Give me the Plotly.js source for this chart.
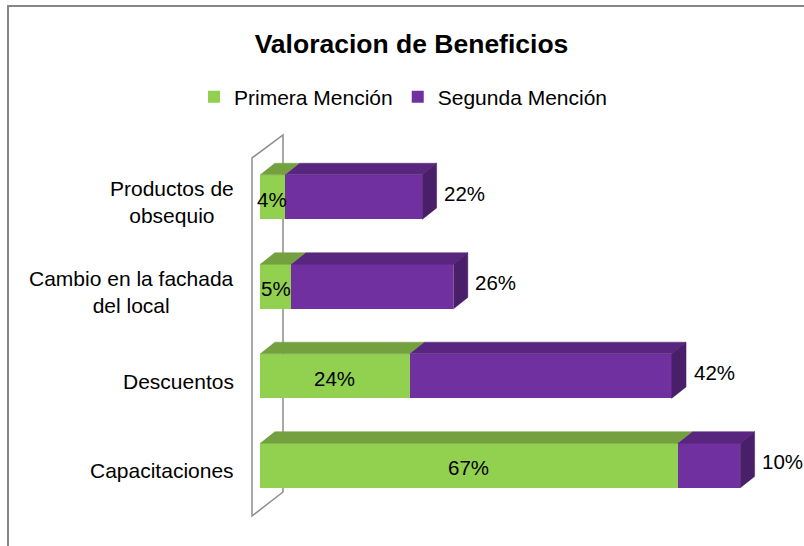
<!DOCTYPE html>
<html>
<head>
<meta charset="utf-8">
<script src="https://cdn.plot.ly/plotly-3.0.1.min.js"></script>
<style>html,body{margin:0;padding:0;background:#fff;}#chart{width:804px;height:546px;}</style>
</head>
<body>
<div id="chart"></div>
<script>
// ---- data (top to bottom as in the picture) ----
const categories = ['Productos de obsequio', 'Cambio en la fachada del local', 'Descuentos', 'Capacitaciones'];
const tickLabels = ['Productos de<br>obsequio', 'Cambio en la fachada<br>del local', 'Descuentos', 'Capacitaciones'];
const primera = [4, 5, 24, 67];
const segunda = [22, 26, 42, 10];
const seriesNames = ['Primera Mención', 'Segunda Mención'];
const chartTitle = 'Valoracion de Beneficios';

// ---- layout constants ----
const W = 804, H = 546;
const M = {l: 250, r: 14, t: 130, b: 25};
const PW = W - M.l - M.r, PH = H - M.t - M.b;
const XR = [-1.605, 85.0];
const YR = [-0.62, 3.75];
const pxX = PW / (XR[1] - XR[0]);
const pxY = PH / (YR[1] - YR[0]);
const DX = 14.5 / pxX, DY = 11.5 / pxY;   // 3D depth
const HALF = 0.25;                          // half bar thickness
const FONT = 'Liberation Sans, Arial, sans-serif';
const GREEN = '#92D050', GREEN_TOP = '#74A03F';
const PURPLE = '#7030A0', PURPLE_TOP = '#58267E', PURPLE_SIDE = '#4A1F6A';

const n = categories.length;
const yPos = categories.map((c, k) => n - 1 - k);
const totals = primera.map((v, k) => v + segunda[k]);

function polyTrace(builder, color) {
  const xs = [], ys = [];
  for (let k = 0; k < n; k++) {
    const pts = builder(k);
    pts.forEach(p => { xs.push(p[0]); ys.push(p[1]); });
    xs.push(null); ys.push(null);
  }
  return {type: 'scatter', mode: 'lines', x: xs, y: ys, fill: 'toself', fillcolor: color,
          line: {width: 0.5, color: color}, showlegend: false, hoverinfo: 'skip'};
}

const traces = [
  {type: 'bar', orientation: 'h', name: seriesNames[0], x: primera, y: yPos, width: 2 * HALF,
   marker: {color: GREEN, line: {width: 0}}, hoverinfo: 'x+name'},
  {type: 'bar', orientation: 'h', name: seriesNames[1], x: segunda, y: yPos, width: 2 * HALF,
   marker: {color: PURPLE, line: {width: 0}}, hoverinfo: 'x+name'},
  polyTrace(k => { const y = yPos[k] + HALF, a = 0, b = primera[k];
    return [[a, y], [b, y], [b + DX, y + DY], [a + DX, y + DY]]; }, GREEN_TOP),
  polyTrace(k => { const y = yPos[k] + HALF, a = primera[k], b = totals[k];
    return [[a, y], [b, y], [b + DX, y + DY], [a + DX, y + DY]]; }, PURPLE_TOP),
  polyTrace(k => { const yb = yPos[k] - HALF, yt = yPos[k] + HALF, b = totals[k];
    return [[b, yb], [b + DX, yb + DY], [b + DX, yt + DY], [b, yt]]; }, PURPLE_SIDE)
];

const annotations = [];
for (let k = 0; k < n; k++) {
  annotations.push({xref: 'paper', x: 0, yref: 'y', y: yPos[k], xanchor: 'right', yanchor: 'middle',
    xshift: -14, yshift: -5, align: 'center', showarrow: false, text: tickLabels[k],
    font: {family: FONT, size: 21, color: '#000'}});
  annotations.push({xref: 'x', x: primera[k] / 2, yref: 'y', y: yPos[k], xanchor: 'center', yanchor: 'middle',
    yshift: -2, showarrow: false, text: primera[k] + '%', font: {family: FONT, size: 20.5, color: '#000'}});
  annotations.push({xref: 'x', x: totals[k], yref: 'y', y: yPos[k], xanchor: 'left', yanchor: 'middle',
    xshift: 20, yshift: 4, showarrow: false, text: segunda[k] + '%', font: {family: FONT, size: 20.5, color: '#000'}});
}

// wall outline (behind bars)
const wFx = -8 / pxX, wBx = 23 / pxX;
const y0px = M.t + (YR[1] - 0) * pxY;
const toY = py => (y0px - py) / pxY;
const wall = 'M ' + wFx + ',' + toY(516) + ' L ' + wFx + ',' + toY(158) + ' L ' + wBx + ',' + toY(135) +
             ' L ' + wBx + ',' + toY(492) + ' Z';
const pxToPaperX = px => (px - M.l) / PW;
const pxToPaperY = py => (M.t + PH - py) / PH;

const layout = {
  width: W, height: H, margin: M,
  paper_bgcolor: '#fff', plot_bgcolor: 'rgba(0,0,0,0)',
  barmode: 'stack', bargap: 0.5,
  font: {family: FONT, size: 21, color: '#000'},
  title: {text: '<b>' + chartTitle + '</b>', font: {family: FONT, size: 26.5, color: '#000'},
          xref: 'container', x: 411.5 / W, xanchor: 'center', yref: 'container', y: 1 - 44 / H, yanchor: 'middle'},
  showlegend: true,
  legend: {orientation: 'h', traceorder: 'normal', xref: 'container', yref: 'container',
           x: 194 / W, y: 1 - 97 / H, xanchor: 'left', yanchor: 'middle',
           font: {family: FONT, size: 21, color: '#000'}, bgcolor: 'rgba(0,0,0,0)'},
  xaxis: {range: XR, visible: false, fixedrange: true},
  yaxis: {range: YR, visible: false, fixedrange: true},
  annotations: annotations,
  shapes: [
    {type: 'path', xref: 'x', yref: 'y', path: wall, layer: 'below', line: {color: '#8C8C8C', width: 1.5}, fillcolor: 'rgba(0,0,0,0)'},
    {type: 'rect', xref: 'paper', yref: 'paper', x0: pxToPaperX(8), x1: pxToPaperX(830), y0: pxToPaperY(570), y1: pxToPaperY(6),
     line: {color: '#868686', width: 2}, layer: 'below'}
  ]
};

Plotly.newPlot('chart', traces, layout, {displayModeBar: false, staticPlot: true});
</script>
</body>
</html>
